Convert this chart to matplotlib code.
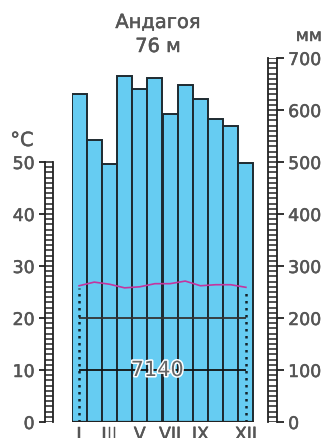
import matplotlib
matplotlib.use("Agg")
import matplotlib.pyplot as plt
import matplotlib.patheffects as pe
import numpy as np

# ---- data ----
station = "Андагоя"
elevation = "76 м"
months = ["I", "II", "III", "IV", "V", "VI", "VII", "VIII", "IX", "X", "XI", "XII"]
precip_mm = [630, 542, 497, 666, 640, 662, 592, 648, 621, 583, 570, 499]
temp_c = [26.2, 26.9, 26.5, 25.8, 26.0, 26.6, 26.6, 27.1, 26.2, 26.4, 26.4, 25.9]
xtick_labels = ["I", "III", "V", "VII", "IX", "XII"]
xtick_months = [1, 3, 5, 7, 9, 12]
annual_total = "7140"
temp_ticks = [0, 10, 20, 30, 40, 50]
precip_ticks = [0, 100, 200, 300, 400, 500, 600, 700]

W, H = 331, 439
plt.rcParams['font.family'] = ['DejaVu Sans']
TXT = "#555555"
FS = 12.5
THICK = [pe.withStroke(linewidth=0.35, foreground=TXT)]

fig = plt.figure(figsize=(W / 100, H / 100), dpi=100)

def px_rect(x0, x1, y_top, y_bot):
    return [x0 / W, 1 - y_bot / H, (x1 - x0) / W, (y_bot - y_top) / H]

Y0, Y700 = 423, 59

# main axes (mm units; 10 degC == 100 mm)
ax = fig.add_axes(px_rect(71.5, 253.5, Y700, Y0))
x = np.arange(1, 13)
ax.bar(x, precip_mm, width=1.0, color="#66ccf2", edgecolor="#1e2a30", linewidth=1.4, zorder=2)
ax.set_xlim(0.5, 12.5)
ax.set_ylim(0, 700)
for s in ax.spines.values():
    s.set_visible(False)
ax.axhline(0, color="#222222", lw=1.6, zorder=5)
ax.set_yticks([])
ax.set_xticks(xtick_months)
ax.set_xticklabels(xtick_labels, fontsize=FS, color=TXT)
for lab in ax.get_xticklabels():
    lab.set_path_effects(THICK)
ax.tick_params(axis="x", length=0, pad=2.5)

t_mm = [t * 10 for t in temp_c]
ax.hlines([100, 200], 1, 12, colors=["#111111", "#333333"], lw=1.3, zorder=4)
ax.vlines([1, 12], 0, [t_mm[0] - 5, t_mm[-1] - 5], colors="#14222a", lw=1.8,
          linestyles=(0, (1, 1.8)), zorder=4)
ax.plot(x, t_mm, color="#c4359f", lw=1.2, zorder=6)
ax.text(6.15, 100, annual_total, ha="center", va="center", fontsize=15, color="#666666",
        zorder=7, path_effects=[pe.withStroke(linewidth=2.2, foreground="white")])

# left ladder (degC)
axl = fig.add_axes(px_rect(45, 53, Y700, Y0))
axl.set_ylim(0, 70)
axl.set_xlim(0, 1)
axl.hlines(np.arange(0, 51, 1), 0, 1, colors="#222222", lw=1.1)
for k in ["top", "bottom"]:
    axl.spines[k].set_visible(False)
for k in ["left", "right"]:
    axl.spines[k].set_bounds(0, 50)
    axl.spines[k].set_linewidth(1.3)
    axl.spines[k].set_color("#222222")
axl.set_xticks([])
axl.set_yticks(temp_ticks)
axl.set_yticklabels([str(v) for v in temp_ticks], fontsize=FS, color=TXT)
for lab in axl.get_yticklabels():
    lab.set_path_effects(THICK)
axl.tick_params(axis="y", length=4, width=1.3, pad=3.5, color="#222222")
axl.patch.set_alpha(0)

# right ladder (mm)
axr = fig.add_axes(px_rect(268, 277, Y700, Y0))
axr.set_ylim(0, 700)
axr.set_xlim(0, 1)
axr.hlines(np.arange(0, 701, 10), 0, 1, colors="#222222", lw=1.1)
for k in ["top", "bottom"]:
    axr.spines[k].set_visible(False)
for k in ["left", "right"]:
    axr.spines[k].set_linewidth(1.3)
    axr.spines[k].set_color("#222222")
axr.set_xticks([])
axr.yaxis.tick_right()
axr.set_yticks(precip_ticks)
axr.set_yticklabels([str(v) for v in precip_ticks], fontsize=FS, color=TXT)
for lab in axr.get_yticklabels():
    lab.set_path_effects(THICK)
axr.tick_params(axis="y", length=5, width=1.3, pad=3, color="#222222")
axr.patch.set_alpha(0)

# titles and units
fig.text(158 / W, 1 - 29 / H, station, ha="center", va="baseline", fontsize=14,
         color=TXT, path_effects=THICK)
fig.text(158 / W, 1 - 53 / H, elevation, ha="center", va="baseline", fontsize=14,
         color=TXT, path_effects=THICK)
fig.text(309 / W, 1 - 42 / H, "мм", ha="center", va="baseline", fontsize=FS,
         color=TXT, path_effects=THICK)
fig.text(22 / W, 1 - 147 / H, "°C", ha="center", va="baseline", fontsize=14,
         color=TXT, path_effects=THICK)

fig.savefig("out.png", dpi=100)
